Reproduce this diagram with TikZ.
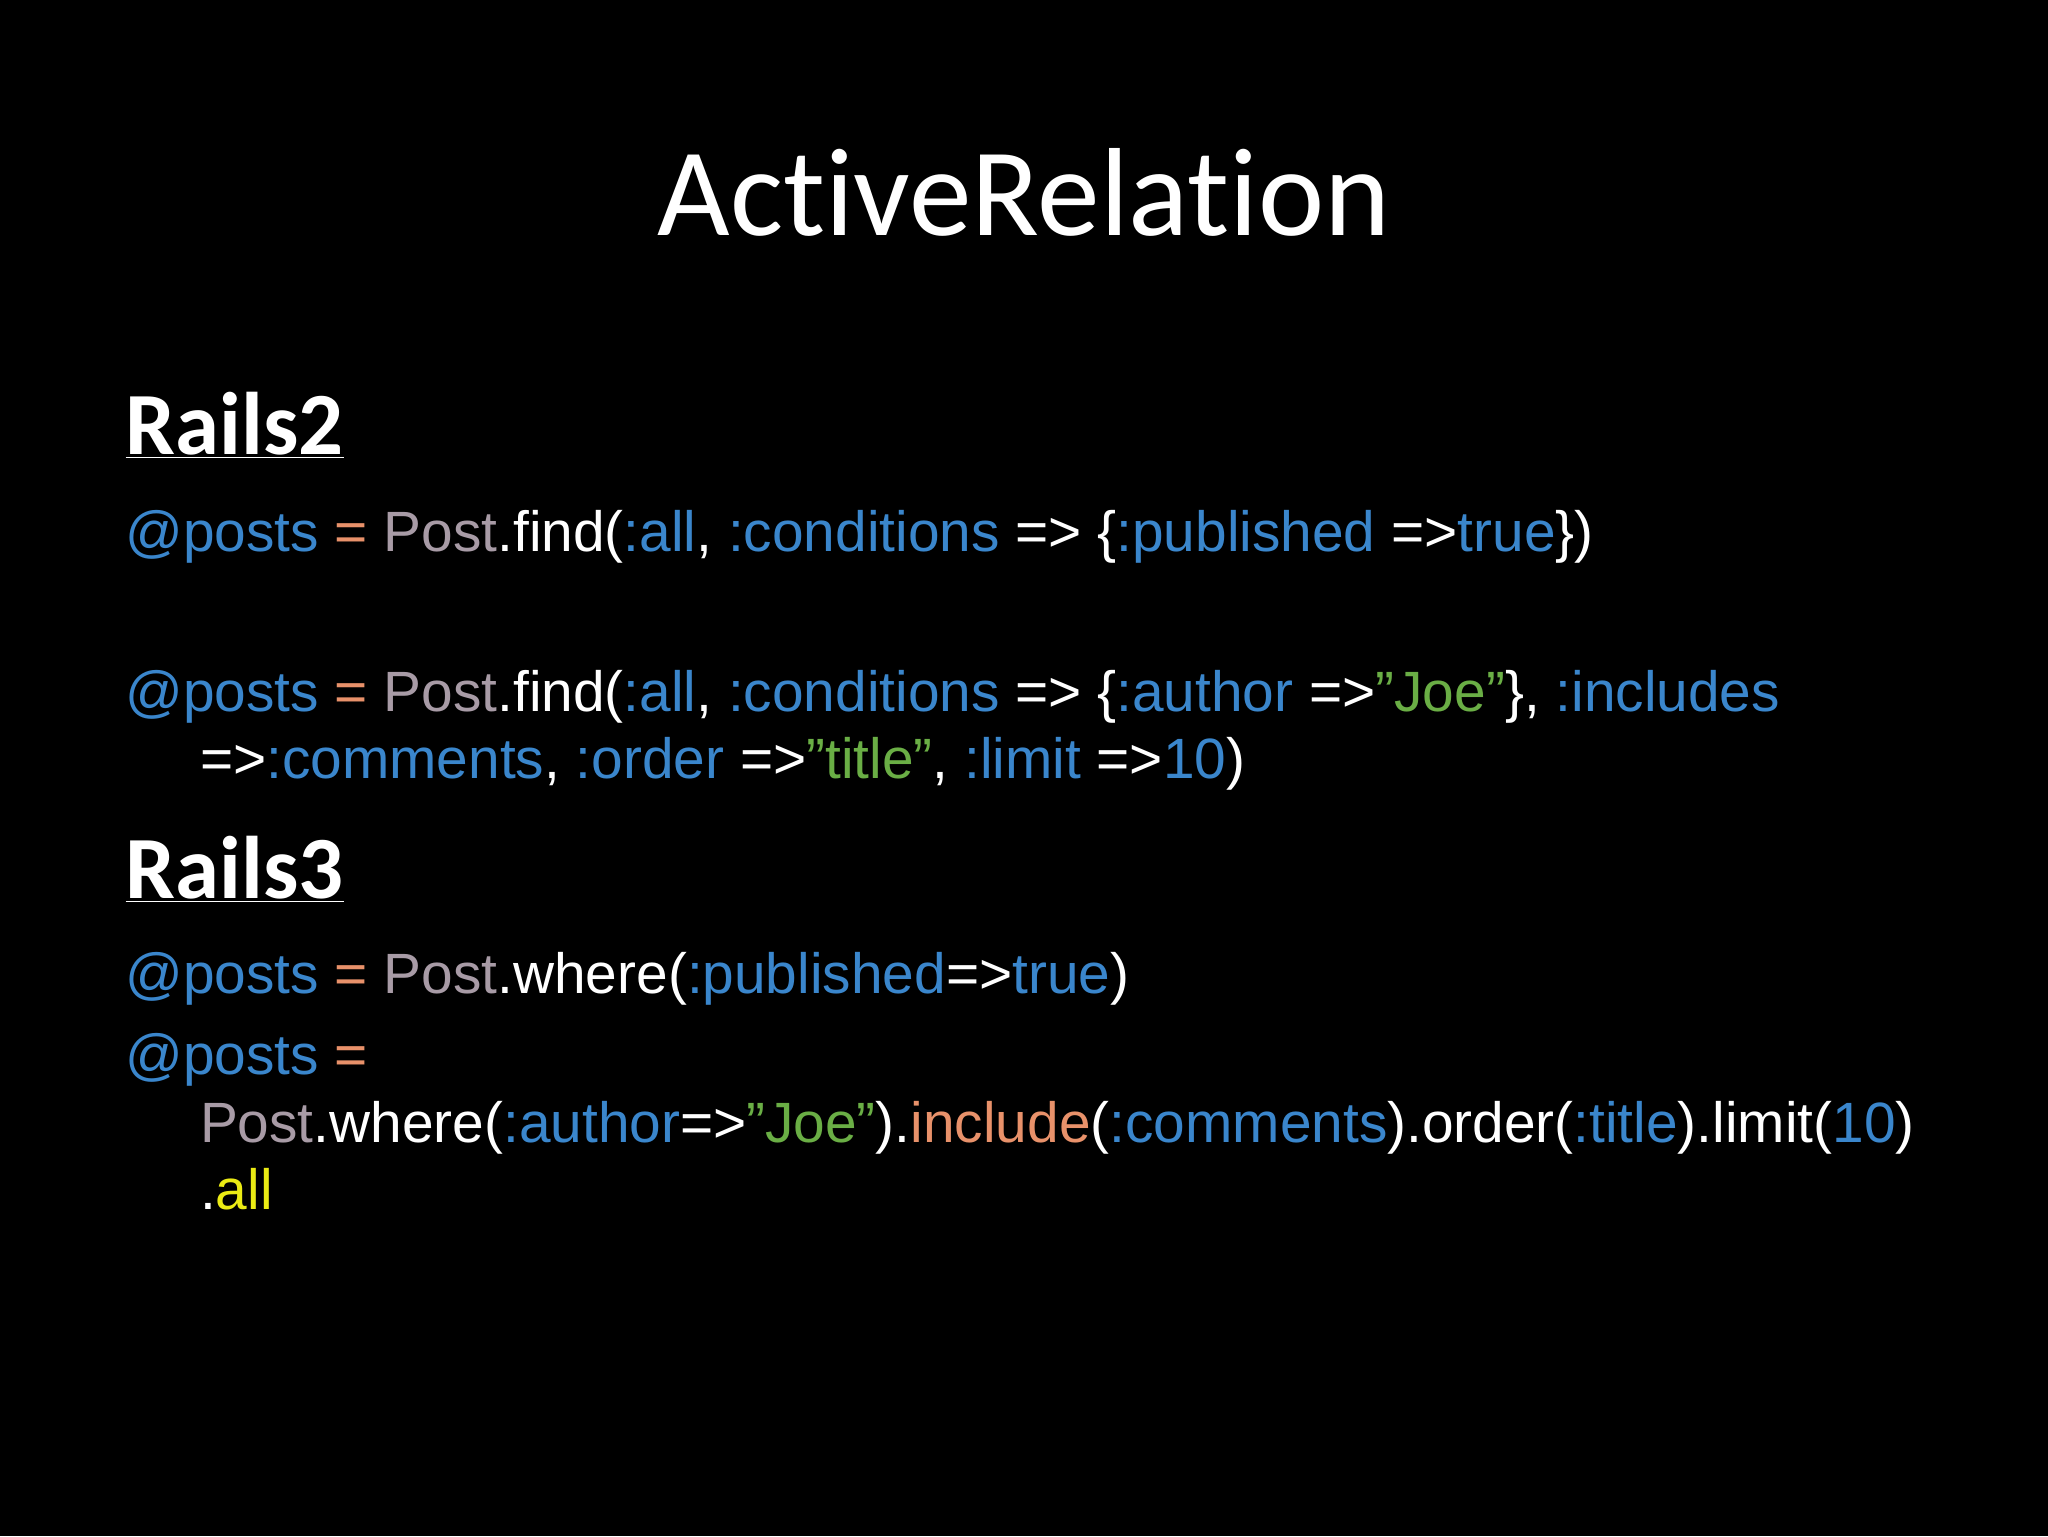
\documentclass[tikz,border=0pt]{standalone}
\usepackage{fontspec}
\setmainfont{Liberation Sans}
\newfontfamily\calfont[Ligatures={NoCommon}]{Carlito}
\definecolor{cblue}{RGB}{58,134,204}
\definecolor{corange}{RGB}{232,145,106}
\definecolor{cgray}{RGB}{168,155,166}
\definecolor{cgreen}{RGB}{106,174,69}
\definecolor{cyel}{RGB}{235,235,20}
\newcommand\cB[1]{\textcolor{cblue}{#1}}
\newcommand\cO[1]{\textcolor{corange}{#1}}
\newcommand\cG[1]{\textcolor{cgray}{#1}}
\newcommand\cN[1]{\textcolor{cgreen}{#1}}
\newcommand\cY[1]{\textcolor{cyel}{#1}}
\newcommand\dq{\symbol{34}}
\begin{document}
\begin{tikzpicture}[x=1pt,y=-1pt,
  code/.style={anchor=base west,inner sep=0pt,text=white,font=\fontsize{43.5}{50}\selectfont},
  head/.style={anchor=base west,inner sep=0pt,text=white,font=\calfont\bfseries\fontsize{68}{70}\selectfont}]
\fill[black] (0,0) rectangle (1568,1176);
\useasboundingbox (0,0) rectangle (1568,1176);
\node[anchor=base,inner sep=0pt,text=white,font=\calfont\fontsize{96}{110}\selectfont] (title) at (784,180) {ActiveRelation};
\node[head] (r2) at (96,348) {\underline{Rails2}};
\node[code] (l1) at (96,422) {\cB{@posts} \cO{=} \cG{Post}.find(\cB{:all}, \cB{:conditions} => \{\cB{:published} =>\cB{true}\})};
\node[code] (l2) at (96,545) {\cB{@posts} \cO{=} \cG{Post}.find(\cB{:all}, \cB{:conditions} => \{\cB{:author} =>\cN{\dq Joe\dq}\}, \cB{:includes}};
\node[code] (l3) at (153,596) {=>\cB{:comments}, \cB{:order} =>\cN{\dq title\dq}, \cB{:limit} =>\cB{10})};
\node[head] (r3) at (96,688) {\underline{Rails3}};
\node[code] (l4) at (96,761) {\cB{@posts} \cO{=} \cG{Post}.where(\cB{:published}=>\cB{true})};
\node[code] (l5) at (96,823) {\cB{@posts} \cO{=}};
\node[code] (l6) at (153,875) {\cG{Post}.where(\cB{:author}=>\cN{\dq Joe\dq}).\cO{include}(\cB{:comments}).order(\cB{:title}).limit(\cB{10})};
\node[code] (l7) at (153,926) {.\cY{all}};
\end{tikzpicture}
\end{document}
